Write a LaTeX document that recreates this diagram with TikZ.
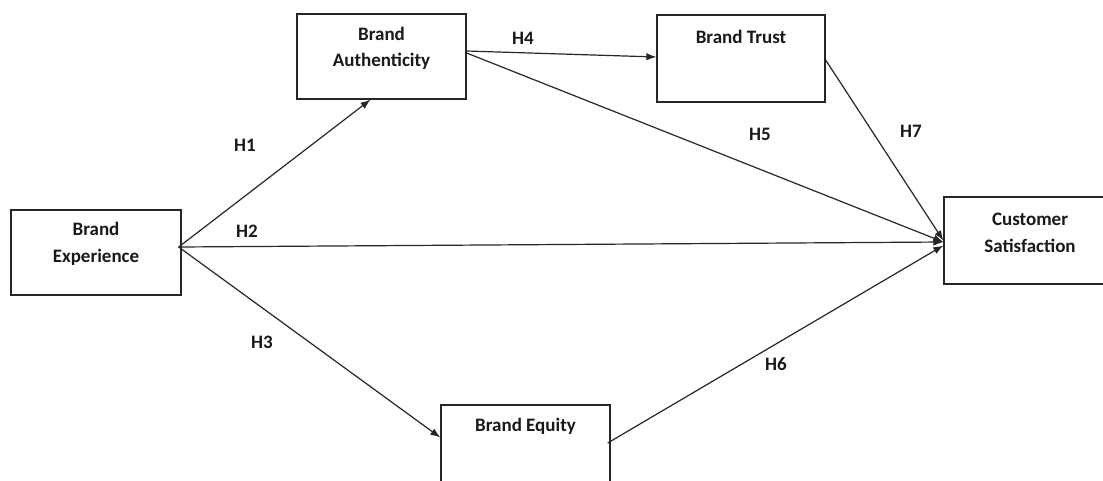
\documentclass[tikz,border=0pt]{standalone}
\usepackage{fontspec}
\setmainfont{Carlito}
\usetikzlibrary{arrows.meta,calc}
\begin{document}
\begin{tikzpicture}[x=1pt,y=-1pt,
  box/.style={draw=black!85,line width=1.3pt,rectangle,inner sep=0pt},
  txt/.style={font=\fontsize{19}{23}\selectfont\bfseries,text=black!90,inner sep=0pt},
  lbl/.style={font=\fontsize{19}{23}\selectfont\bfseries,text=black!90,inner sep=0pt},
  conn/.style={draw=black!85,line width=1.2pt,-{Latex[length=10pt,width=7.5pt]}}]
\useasboundingbox[fill=white] (0,0) rectangle (1103,480);
% boxes
\node[box,minimum width=170pt,minimum height=85pt] (exp) at (96,252.5) {};
\node[box,minimum width=169pt,minimum height=85pt] (auth) at (381.5,56.5) {};
\node[box,minimum width=168pt,minimum height=87pt] (trust) at (741,58.5) {};
\node[box,minimum width=170pt,minimum height=87pt] (sat) at (1029,240.5) {};
\node[box,minimum width=169pt,minimum height=87pt] (eq) at (525.5,448.5) {};
% texts
\node[txt] (t1) at (96,229) {Brand};
\node[txt] (t2) at (96,257) {Experience};
\node[txt] (t3) at (381.5,34) {Brand};
\node[txt] (t4) at (381.5,61) {Authenticity};
\node[txt] (t5) at (741,37) {Brand Trust};
\node[txt] (t6) at (1030,219) {Customer};
\node[txt] (t7) at (1030,246) {Satisfaction};
\node[txt] (t8) at (525.5,426) {Brand Equity};
% coordinates
\coordinate (s0) at ($(exp.east)+(-3,-5.5)$);
\coordinate (a1) at ($(auth.east)+(0,-5.5)$);
\coordinate (a2) at ($(auth.east)+(0,-3.5)$);
\coordinate (e6) at ($(eq.east)+(-3,-5.5)$);
\coordinate (t7s) at ($(trust.east)+(0,1.5)$);
% connectors
\draw[conn] (s0) -- ($(auth.south)+(-11,0)$);
\draw[conn] (s0) -- ($(sat.west)+(0,1.5)$);
\draw[conn] (s0) -- ($(eq.west)+(0,-11)$);
\draw[conn] (a1) -- ($(trust.west)+(0,-1.5)$);
\draw[conn] (a2) -- ($(sat.west)+(0,1.5)$);
\draw[conn] (e6) -- ($(sat.west)+(0,5)$);
\draw[conn] (t7s) -- ($(sat.west)+(0,0)$);
% labels
\node[lbl] (h1) at (245,145) {H1};
\node[lbl] (h2) at (247,231) {H2};
\node[lbl] (h3) at (262,342) {H3};
\node[lbl] (h4) at (523,38) {H4};
\node[lbl] (h5) at (760,134) {H5};
\node[lbl] (h6) at (776,364) {H6};
\node[lbl] (h7) at (911,131) {H7};
\end{tikzpicture}
\end{document}
